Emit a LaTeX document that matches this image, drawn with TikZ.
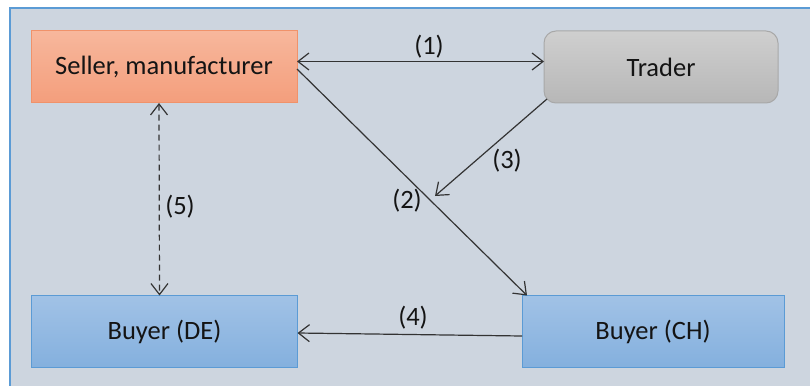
\documentclass[tikz,border=0pt]{standalone}
\usepackage{fontspec}
\setmainfont{Carlito}
\usetikzlibrary{arrows.meta}
\definecolor{framefill}{HTML}{CDD5DF}
\definecolor{frameline}{HTML}{5B9BD5}
\definecolor{ink}{HTML}{333333}
\tikzset{
  x=1pt, y=-1pt,
  box/.style={draw, line width=1pt, minimum width=266pt, minimum height=72pt,
    inner sep=0pt, outer sep=0pt, text=black!92,
    font=\fontsize{26.5}{31}\selectfont},
  sellerbox/.style={box, draw={rgb,255:red,240;green,146;blue,106}, top color={rgb,255:red,247;green,183;blue,156},
    bottom color={rgb,255:red,244;green,158;blue,124}},
  traderbox/.style={box, draw={rgb,255:red,168;green,168;blue,168}, rounded corners=12pt,
    minimum width=234pt, top color={rgb,255:red,207;green,207;blue,207},
    bottom color={rgb,255:red,183;green,183;blue,183}},
  buyerbox/.style={box, draw=frameline, top color={rgb,255:red,161;green,194;blue,230},
    bottom color={rgb,255:red,132;green,176;blue,222}},
  flow/.style={draw=ink, line width=1.2pt,
    arrows={-Straight Barb[length=11pt,width=17pt,line width=1.2pt]}},
  flowboth/.style={flow, arrows={Straight Barb[length=11pt,width=17pt,line width=1.2pt]-Straight Barb[length=11pt,width=17pt,line width=1.2pt]}},
  tag/.style={text=black!92, font=\fontsize{26.5}{31}\selectfont, inner sep=0pt}
}
\begin{document}
\begin{tikzpicture}
  % page area and white surround
  \useasboundingbox (0,0) rectangle (810,385);
  \fill[white] (0,0) rectangle (810,385);
  % panel behind the diagram
  \filldraw[fill=framefill, draw=frameline, line width=1.6pt] (10,8) rectangle (830,400);

  % parties
  \node[sellerbox] (seller) at (164,67) {Seller, manufacturer};
  \node[traderbox] (trader) at (661,67) {Trader};
  \node[buyerbox] (buyerde) at (164.5,331.5) {Buyer (DE)};
  \node[buyerbox, minimum width=262pt] (buyerch) at (653,331.5) {Buyer (CH)};
  \coordinate (meet) at (435,196);

  % flows
  \draw[flowboth] ([yshift=5.5pt]seller.east) -- ([yshift=5.5pt]trader.west);
  \draw[flow] ([yshift=-2pt]seller.east) -- ([xshift=5pt]buyerch.north west);
  \draw[flow] ([shift={(3pt,4pt)}]trader.south west) -- (meet);
  \draw[flow] ([yshift=-4.5pt]buyerch.west) -- ([yshift=-1.5pt]buyerde.east);
  \draw[flowboth, dash pattern=on 6pt off 4pt] ([xshift=-5pt]seller.south) -- ([xshift=-5pt]buyerde.north);

  % flow numbers
  \node[tag] (n1) at (429,47) {(1)};
  \node[tag] (n2) at (407,201) {(2)};
  \node[tag] (n3) at (507,161) {(3)};
  \node[tag] (n4) at (413,318) {(4)};
  \node[tag] (n5) at (180,207) {(5)};
\end{tikzpicture}
\end{document}
